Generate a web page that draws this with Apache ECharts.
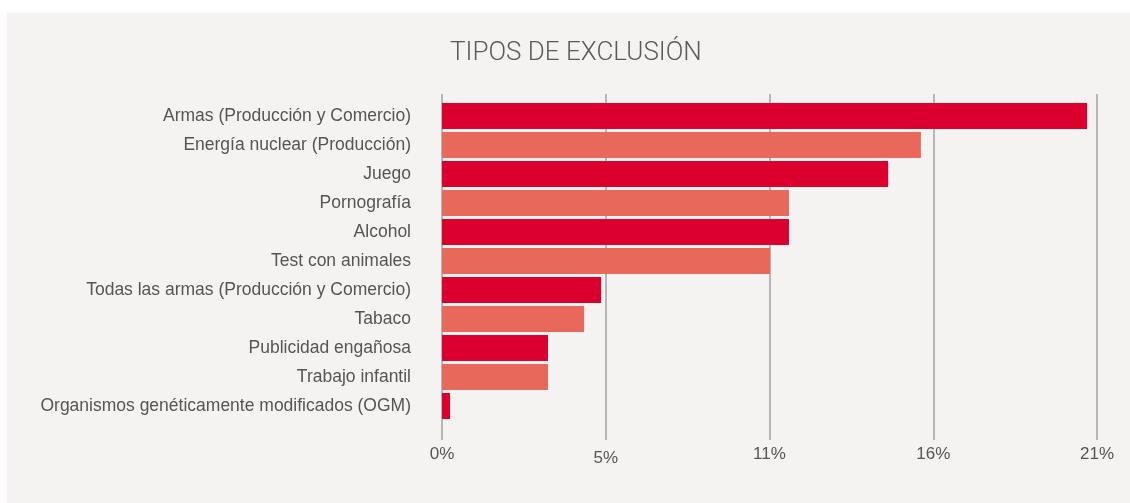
<!DOCTYPE html>
<html>
<head>
<meta charset="utf-8">
<title>Tipos de exclusión</title>
<script src="https://cdn.jsdelivr.net/npm/echarts@6/dist/echarts.min.js"></script>
<style>
  html, body { margin: 0; padding: 0; background: #ffffff; }
  #chart { width: 1130px; height: 503px; }
</style>
</head>
<body>
<div id="chart"></div>
<script>
// Exclusion categories, top to bottom
const categories = [
  'Armas (Producción y Comercio)',
  'Energía nuclear (Producción)',
  'Juego',
  'Pornografía',
  'Alcohol',
  'Test con animales',
  'Todas las armas (Producción y Comercio)',
  'Tabaco',
  'Publicidad engañosa',
  'Trabajo infantil',
  'Organismos genéticamente modificados (OGM)'
];

// Share of funds applying each exclusion (%)
const shares = [20.88, 15.50, 14.44, 11.23, 11.23, 10.62, 5.15, 4.60, 3.43, 3.43, 0.26];

// Value axis extent and step (labels are rounded to whole percents)
const axisMax = 21.2;
const axisStep = 5.3;

const DARK = '#dc002e';
const LIGHT = '#e8695b';
const FONT = '"Liberation Sans", Arial, sans-serif';
const TITLE_FONT = 'Roboto, "Liberation Sans", Arial, sans-serif';

const chart = echarts.init(document.getElementById('chart'), null, { renderer: 'canvas' });

chart.setOption({
  backgroundColor: '#ffffff',
  animation: false,
  graphic: [{
    type: 'rect',
    left: 7, top: 13,
    shape: { width: 1123, height: 490 },
    style: { fill: '#f4f3f1' },
    z: -10
  }],
  title: {
    text: 'TIPOS DE EXCLUSIÓN',
    left: 450,
    top: 40,
    padding: 0,
    textStyle: { fontFamily: TITLE_FONT, fontSize: 26, fontWeight: 300, color: '#5a5a5a' }
  },
  grid: [
    // frame carrying the vertical rules and the percent labels
    { left: 442, right: 33, top: 94, bottom: 63, containLabel: false },
    // frame carrying the bars
    { left: 442, right: 33, top: 101.5, height: 319, containLabel: false }
  ],
  xAxis: [
    {
      gridIndex: 0,
      type: 'value',
      min: 0, max: axisMax, interval: axisStep,
      axisLine: { show: false },
      axisTick: { show: false },
      splitLine: { show: true, lineStyle: { color: '#b6b7b9', width: 2 } },
      axisLabel: {
        margin: 6,
        fontFamily: FONT, fontSize: 17, color: '#555555',
        formatter: function (v, i) {
          const t = Math.round(v) + '%';
          return i === 1 ? '{low|' + t + '}' : t;
        },
        rich: { low: { fontFamily: FONT, fontSize: 17, color: '#555555', padding: [4, 0, 0, 0] } }
      }
    },
    {
      gridIndex: 1,
      type: 'value',
      min: 0, max: axisMax, interval: axisStep,
      show: false
    }
  ],
  yAxis: [
    { gridIndex: 0, type: 'value', show: false },
    {
      gridIndex: 1,
      type: 'category',
      data: categories,
      inverse: true,
      axisLine: { show: false },
      axisTick: { show: false },
      splitLine: { show: false },
      axisLabel: { margin: 31, fontFamily: FONT, fontSize: 17.5, color: '#555555' }
    }
  ],
  series: [{
    type: 'bar',
    xAxisIndex: 1,
    yAxisIndex: 1,
    data: shares,
    barCategoryGap: '10%',
    itemStyle: {
      color: function (p) { return p.dataIndex % 2 === 0 ? DARK : LIGHT; }
    },
    z: 3
  }]
});
</script>
</body>
</html>
